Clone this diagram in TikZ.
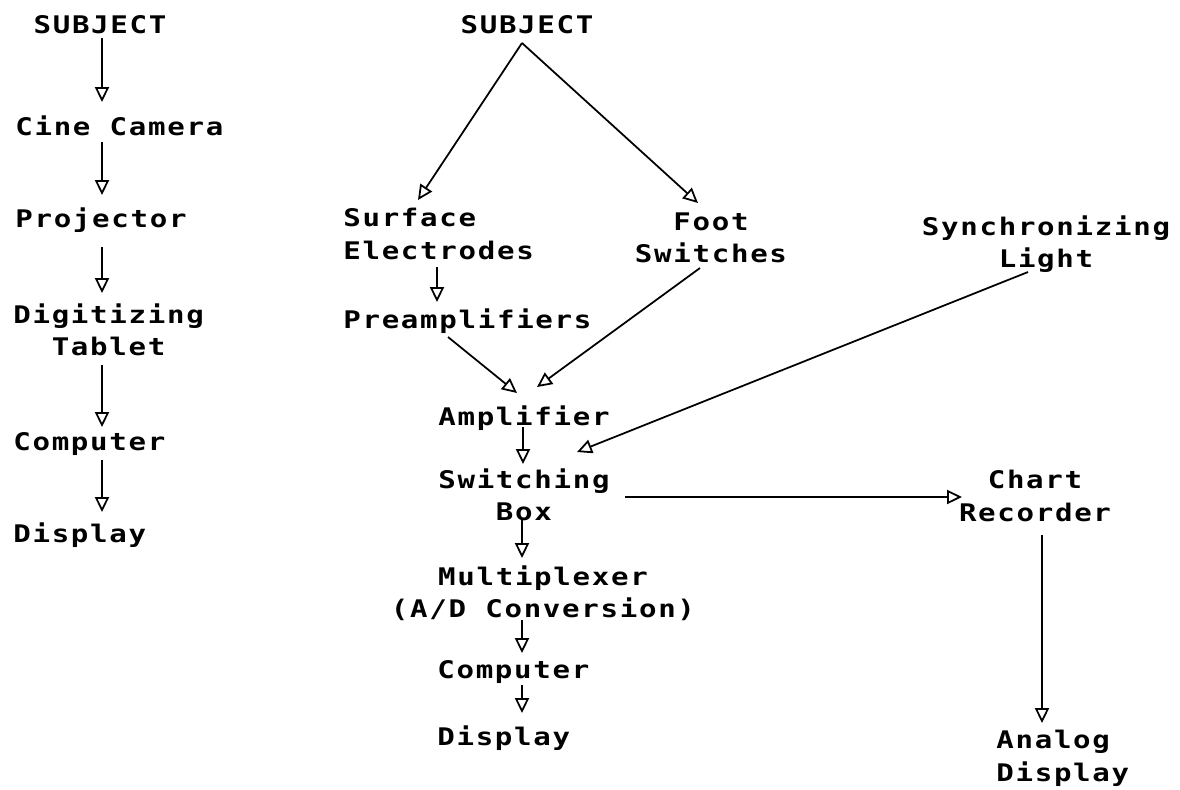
\documentclass[tikz,border=0pt]{standalone}
\usepackage{fontspec}
\usepackage{tikz}
\usetikzlibrary{arrows.meta,calc}
\newfontfamily\chartfont{DejaVu Sans Mono}[FakeStretch=1.2, LetterSpace=7]

\tikzset{
    lbl/.style={inner sep=0pt, font=\chartfont\bfseries\fontsize{13.8}{18.5}\selectfont},
    arr/.style={line width=1pt, -{Triangle[open, length=8.5pt, width=8pt]}}
}

\begin{document}
\begin{tikzpicture}[x=0.02cm, y=-0.02cm]
    \useasboundingbox (0,0) rectangle (1180,789); % page size
    % left chain: film analysis
    \node [lbl, anchor=north] (subjL) at (100,15) {SUBJECT}; % top subject
    \node [lbl, anchor=north west] (cine) at (15,115) {Cine Camera};
    \node [lbl, anchor=north west] (proj) at (15,207) {Projector};
    \node [lbl, anchor=north west, align=center] (digit) at (13,303) {Digitizing\\Tablet};
    \node [lbl, anchor=north west] (compL) at (13,432) {Computer};
    \node [lbl, anchor=north west] (dispL) at (13,522) {Display};
    % middle chain: EMG
    \node [lbl, anchor=north] (subjM) at (527,15) {SUBJECT};
    \node [lbl, anchor=north west, align=left] (surf) at (343,208) {Surface\\Electrodes};
    \node [lbl, anchor=north, align=center] (foot) at (711,212) {Foot\\Switches};
    \node [lbl, anchor=north, align=center] (sync) at (1046,215) {Synchronizing\\Light};
    \node [lbl, anchor=north west] (preamp) at (343,308) {Preamplifiers};
    \node [lbl, anchor=north west] (amp) at (438,405) {Amplifier};
    \node [lbl, anchor=north west, align=center] (switchbox) at (438,468) {Switching\\Box};
    \node [lbl, anchor=north, align=center] (chart) at (1035,470) {Chart\\Recorder};
    \node [lbl, anchor=north, align=center] (mux) at (543,565) {Multiplexer\\(A/D Conversion)};
    \node [lbl, anchor=north west] (compM) at (437,660) {Computer};
    \node [lbl, anchor=north west] (dispM) at (437,725) {Display};
    \node [lbl, anchor=north west, align=left] (analog) at (996,730) {Analog\\Display};
    % left arrows
    \draw [arr] ($(subjL.north)+(2,23)$) -- ($(cine.north west)+(87,-13)$);
    \draw [arr] ($(cine.north west)+(87,27)$) -- ($(proj.north west)+(87,-12)$);
    \draw [arr] ($(proj.north west)+(87,40)$) -- ($(digit.north west)+(89,-10)$);
    \draw [arr] ($(digit.north west)+(89,62)$) -- ($(compL.north west)+(89,-5)$);
    \draw [arr] ($(compL.north west)+(89,28)$) -- ($(dispL.north west)+(89,-10)$);
    % middle arrows
    \draw [arr] ($(subjM.north)+(-5,28)$) -- ($(surf.north west)+(75,-8)$);
    \draw [arr] ($(subjM.north)+(-5,28)$) -- ($(foot.north)+(-13,-9)$);
    \draw [arr] ($(surf.north west)+(94,59)$) -- ($(preamp.north west)+(94,-6)$);
    \draw [arr] ($(preamp.north west)+(105,29)$) -- ($(amp.north west)+(79,-12)$);
    \draw [arr] ($(foot.north)+(-11,56)$) -- ($(amp.north west)+(99,-18)$);
    \draw [arr] ($(sync.north)+(-18,57)$) -- ($(switchbox.north west)+(139,-16)$);
    \draw [arr] ($(amp.north west)+(85,22)$) -- ($(switchbox.north west)+(85,-4)$);
    \draw [arr] ($(switchbox.north west)+(187,29)$) -- ($(chart.north)+(-73,27)$);
    \draw [arr] ($(switchbox.north west)+(84,52)$) -- ($(mux.north)+(-21,-7)$);
    \draw [arr] ($(mux.north)+(-21,55)$) -- ($(compM.north west)+(85,-7)$);
    \draw [arr] ($(compM.north west)+(85,25)$) -- ($(dispM.north west)+(85,-12)$);
    \draw [arr] ($(chart.north)+(7,65)$) -- ($(analog.north west)+(46,-7)$);
\end{tikzpicture}
\end{document}
